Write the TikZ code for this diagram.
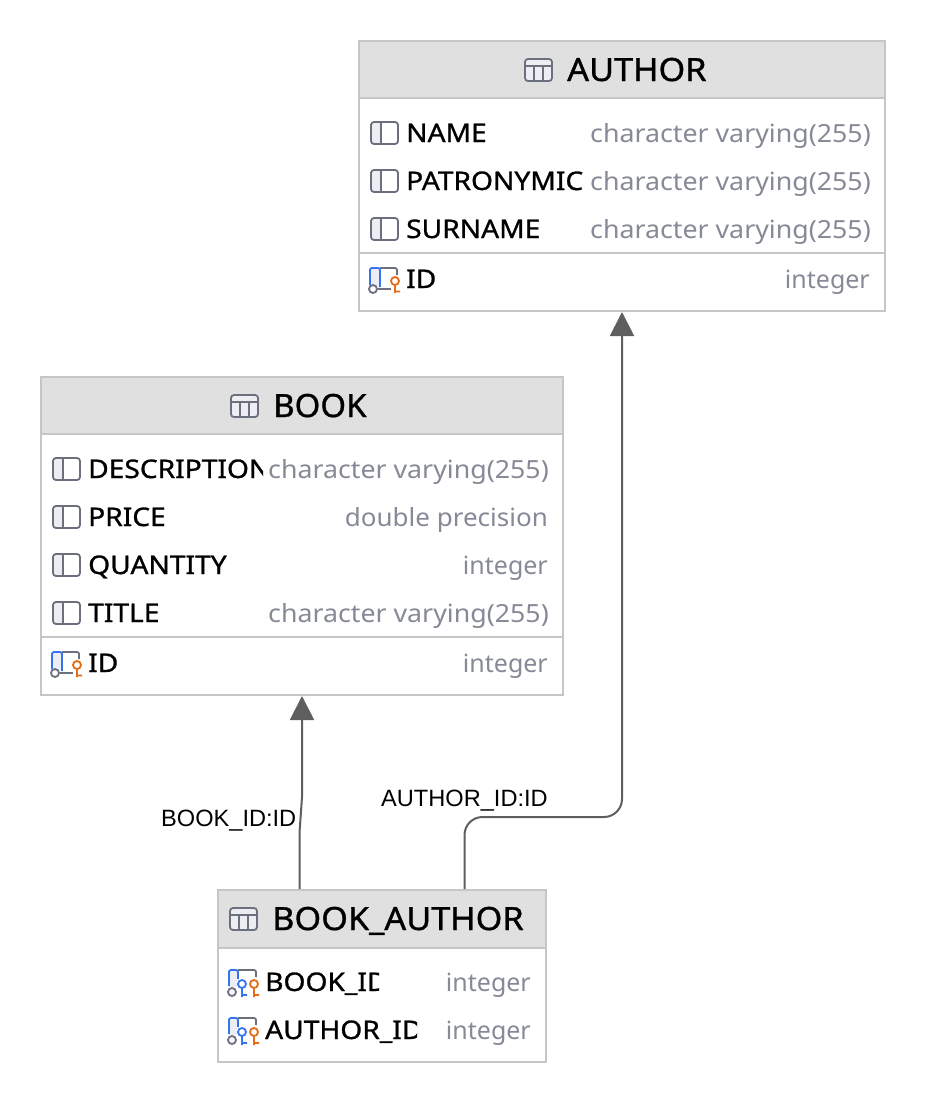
\documentclass[tikz,border=0pt]{standalone}
\usepackage{fontspec}
\setmainfont{Noto Sans}
\newfontfamily\namefont[FakeBold=1,FakeStretch=1.10]{Noto Sans}
\newfontfamily\titlefont[FakeBold=1,FakeStretch=1.07]{Noto Sans}
\newfontfamily\titlenarrow[FakeBold=1,FakeStretch=1.03]{Noto Sans}
\newfontfamily\typewide[FakeStretch=1.07]{Noto Sans}
\newfontfamily\typemid[FakeStretch=1.04]{Noto Sans}
\newfontfamily\labelfont{Liberation Sans}
\usetikzlibrary{arrows.meta,calc}
\definecolor{bordergray}{HTML}{C6C6C6}
\definecolor{headgray}{HTML}{E0E0E0}
\definecolor{icongray}{HTML}{6C707E}
\definecolor{iconfill}{HTML}{EDEEF3}
\definecolor{typegray}{HTML}{868A96}
\definecolor{linkgray}{HTML}{5F5F5F}
\definecolor{keyblue}{HTML}{3574F0}
\definecolor{keyorange}{HTML}{E66D17}
\tikzset{
  tablebox/.style={draw=bordergray,line width=1.5pt,fill=white,anchor=north west,inner sep=0pt,outer sep=0pt},
  headbox/.style={draw=bordergray,line width=1.5pt,fill=headgray,anchor=north west,inner sep=0pt,outer sep=0pt},
  rowrule/.style={draw=bordergray,line width=1.5pt},
  titletext/.style={anchor=base west,inner sep=0pt,font=\titlefont\fontsize{32}{36}\selectfont,text=black},
  nametext/.style={anchor=base west,inner sep=0pt,font=\namefont\fontsize{25.6}{30}\selectfont,text=black},
  typetext/.style={anchor=base east,inner sep=0pt,font=\fontsize{25}{30}\selectfont,text=typegray},
  linktext/.style={anchor=base west,inner sep=0pt,font=\labelfont\fontsize{23.6}{28}\selectfont,text=black},
  linkline/.style={draw=linkgray,line width=2pt},
  linkarrow/.style={linkline,-{Triangle[length=24pt,width=24pt,color=linkgray]}},
  tableicon/.pic={
    \fill[iconfill,rounded corners=2pt] (0,-11) rectangle (27,11);
    \draw[icongray,line width=1.8pt,rounded corners=3pt] (0,-11) rectangle (27,11);
    \draw[icongray,line width=1.6pt] (0,-4) -- (27,-4) (9,-4) -- (9,11) (18,-4) -- (18,11);
  },
  colicon/.pic={
    \fill[iconfill,rounded corners=2pt] (0,-11) rectangle (10,11);
    \draw[icongray,line width=1.8pt,rounded corners=3pt] (0,-11) rectangle (27,11);
    \draw[icongray,line width=1.6pt] (10,-11) -- (10,11);
  },
  pkicon/.pic={
    \fill[iconfill] (0,-11) rectangle (10,8);
    \draw[icongray,line width=1.8pt,rounded corners=2pt] (10,-11) -- (27,-11) -- (27,-4);
    \draw[icongray,line width=1.8pt] (8,10) -- (21,10);
    \draw[keyblue,line width=1.8pt,rounded corners=2pt] (0,6) -- (0,-11) -- (10,-11) -- (10,8);
    \draw[icongray,line width=1.8pt] (3,10) circle (4);
    \draw[keyorange,line width=1.8pt] (25,2) circle (4) (25,6) -- (25,14) (25,12.5) -- (30,12.5);
  },
  fkicon/.pic={
    \fill[iconfill] (0,-11) rectangle (8,5);
    \draw[icongray,line width=1.8pt,rounded corners=2pt] (9,-12) -- (27,-12) -- (27,-5);
    \draw[keyblue,line width=1.8pt,rounded corners=2pt] (0,4) -- (0,-12) -- (9,-12) -- (9,-3);
    \draw[icongray,line width=1.8pt] (3,10) circle (4);
    \draw[keyblue,line width=1.8pt] (13,2) circle (4) (13,6) -- (13,15) (13,13) -- (18,13);
    \draw[keyorange,line width=1.8pt] (25,2) circle (4) (25,6) -- (25,15) (25,13) -- (30,13);
  },
}
\begin{document}
\begin{tikzpicture}[x=1pt,y=-1pt]
\useasboundingbox (0,0) rectangle (926,1104);
% AUTHOR
\node[tablebox,minimum width=526pt,minimum height=270pt] (author) at (359,41) {};
\node[headbox,minimum width=526pt,minimum height=57pt] (authorhead) at (359,41) {};
\draw[rowrule] (359,253) -- (885,253);
\pic at (525,70) {tableicon};
\node[titletext] (authortitle) at (567,81) {AUTHOR};
\pic at (371,133) {colicon};
\pic at (371,181) {colicon};
\pic at (371,229) {colicon};
\pic at (370,279) {pkicon};
\node[nametext] (aname) at (406,142) {NAME};
\begin{scope}
\clip (400,160) rectangle (584,200);
\node[nametext] (apat) at (406,190) {PATRONYMIC};
\end{scope}
\node[nametext] (asur) at (406,238) {SURNAME};
\node[nametext] (aid) at (406,288) {ID};
\node[typetext] (aname t) at (871,142) {\typewide character varying(255)};
\node[typetext] (apat t) at (871,190) {\typewide character varying(255)};
\node[typetext] (asur t) at (871,238) {\typewide character varying(255)};
\node[typetext] (aid t) at (870,288) {integer};
% BOOK
\node[tablebox,minimum width=522pt,minimum height=318pt] (book) at (41,377) {};
\node[headbox,minimum width=522pt,minimum height=57pt] (bookhead) at (41,377) {};
\draw[rowrule] (41,637) -- (563,637);
\pic at (231,406) {tableicon};
\node[titletext] (booktitle) at (273,417) {\titlenarrow BOOK};
\pic at (53,469) {colicon};
\pic at (53,517) {colicon};
\pic at (53,565) {colicon};
\pic at (53,613) {colicon};
\pic at (52,663) {pkicon};
\begin{scope}
\clip (80,448) rectangle (263,488);
\node[nametext] (bdesc) at (88,478) {DESCRIPTION};
\end{scope}
\node[nametext] (bprice) at (88,526) {PRICE};
\begin{scope}
\clip (80,544) rectangle (229,584);
\node[nametext] (bqty) at (88,574) {QUANTITY};
\end{scope}
\node[nametext] (btitle) at (88,622) {TITLE};
\node[nametext] (bid) at (88,672) {ID};
\node[typetext] (bdesc t) at (549,478) {\typewide character varying(255)};
\node[typetext] (bprice t) at (548,526) {\typemid double precision};
\node[typetext] (bqty t) at (548,574) {integer};
\node[typetext] (btitle t) at (549,622) {\typewide character varying(255)};
\node[typetext] (bid t) at (548,672) {integer};
% BOOK_AUTHOR
\node[tablebox,minimum width=328pt,minimum height=172pt] (ba) at (218,890) {};
\node[headbox,minimum width=328pt,minimum height=58pt] (bahead) at (218,890) {};
\pic at (230,919) {tableicon};
\node[titletext] (batitle) at (272,930) {BOOK\_AUTHOR};
\pic at (229,982) {fkicon};
\pic at (229,1030) {fkicon};
\begin{scope}
\clip (260,960) rectangle (379,1000);
\node[nametext] (babook) at (265,991) {BOOK\_ID};
\end{scope}
\begin{scope}
\clip (260,1008) rectangle (417,1048);
\node[nametext] (baauth) at (265,1039) {AUTHOR\_ID};
\end{scope}
\node[typetext] (babook t) at (531,991) {integer};
\node[typetext] (baauth t) at (531,1039) {integer};
% connectors
\draw[linkarrow] ($(ba.north west)+(81.5,-1)$) -- ++(0,-56) -- ($(book.south west)+(261,102)$) -- ($(book.south west)+(261,1)$);
\draw[linkarrow,rounded corners=18pt] ($(ba.north west)+(246.5,-1)$) -- ++(0,-72) -- ++(157.5,0) -- ($(author.south west)+(263,1)$);
\node[linktext] (booklabel) at (161,826) {BOOK\_ID:ID};
\node[linktext] (authorlabel) at (381,806) {AUTHOR\_ID:ID};
\end{tikzpicture}
\end{document}
